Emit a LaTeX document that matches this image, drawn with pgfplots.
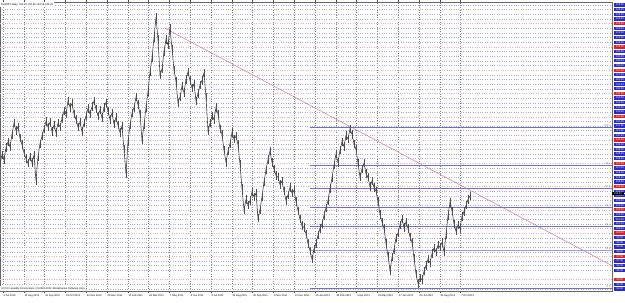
\documentclass[border=0pt]{standalone}
\usepackage{pgfplots}
\pgfplotsset{compat=1.18}
\usepackage{fontspec}
\setmainfont{Liberation Sans}
\definecolor{mtblue}{HTML}{2B2BC8}
\definecolor{mtred}{HTML}{E02020}
\definecolor{gridblue}{HTML}{A8A8E8}
\definecolor{gridpink}{HTML}{EEB0B0}
\definecolor{fibblue}{HTML}{7070C8}
\definecolor{trend}{HTML}{D07090}
\newcommand{\tinyf}{\fontsize{2.6}{2.8}\selectfont}
\begin{document}
\begin{tikzpicture}[x=1pt,y=1pt]
\useasboundingbox (0,0) rectangle (625,303);
\begin{axis}[
  at={(0pt,12pt)}, anchor=south west,
  scale only axis, width=612pt, height=289pt,
  xmin=0, xmax=612, ymin=93.78, ymax=124.82,
  axis line style={black!60, line width=0.4pt},
  /pgf/number format/assume math mode=true,
  xtick={3,23.8,44.6,65.4,86.2,107,127.8,148.6,169.4,190.2,211,231.8,252.6,273.4,294.2,315,335.8,356.6,377.4,398.2,419,439.8,460.6},
  xticklabels={6 Jul 2010,12 Aug 2010,15 Sep 2010,19 Oct 2010,22 Nov 2010,28 Dec 2010,10 Feb 2011,28 Mar 2011,1 May 2011,6 Jun 2011,8 Jul 2011,22 Aug 2011,26 Sep 2011,4 Nov 2011,12 Dec 2011,16 Jan 2012,28 Feb 2012,3 Apr 2012,15 May 2012,17 Jun 2012,24 Jul 2012,30 Aug 2012,7 Oct 2012},
  xticklabel style={anchor=north west, font=\tinyf, inner sep=0.5pt, yshift=-0.5pt},
  x tick style={black!70, line width=0.3pt},
  tick align=outside, major tick length=2pt,
  xmajorgrids, ymajorgrids,
  major x grid style={black!50, dotted, line width=0.35pt},
  major y grid style={gridblue, dotted, line width=0.35pt},
  ytick={94,94.5,96,96.5,97,98,98.5,99,99.5,100.5,101,101.5,102,103,103.5,104,104.5,105.5,106,106.5,107,108,108.5,109,109.5,110.5,111,111.5,112,113,113.5,114,114.5,115.5,116,116.5,117,118,118.5,119,119.5,120.5,121,121.5,122,123,123.5,124,124.5},
  extra y ticks={95,97.5,100,102.5,105,107.5,110,112.5,115,117.5,120,122.5},
  extra y tick style={yticklabel style={fill=mtred}, major y grid style={gridpink, dotted, line width=0.35pt}},
  yticklabel pos=right,
  y tick style={draw=none},
  yticklabel style={anchor=west, font=\tinyf, text=white, fill=mtblue, inner sep=0pt,
    minimum width=12pt, minimum height=3.3pt, xshift=-0.3pt,
    /pgf/number format/fixed, /pgf/number format/fixed zerofill, /pgf/number format/precision=2},
  clip=false,
]
% trend line and fibonacci retracement
\addplot[trend, line width=0.45pt] coordinates {(165,122.0) (612,96.5)};
\addplot[trend, dotted, line width=0.4pt] coordinates {(310,111.4) (418,94.1)};
\addplot[fibblue, line width=0.5pt] coordinates {(310,111.4) (612,111.4)};
\addplot[fibblue, line width=0.5pt] coordinates {(310,107.32) (612,107.32)};
\addplot[fibblue, line width=0.5pt] coordinates {(310,104.79) (612,104.79)};
\addplot[fibblue, line width=0.5pt] coordinates {(310,102.75) (612,102.75)};
\addplot[fibblue, line width=0.5pt] coordinates {(310,100.71) (612,100.71)};
\addplot[fibblue!70, line width=0.4pt] coordinates {(310,98.18) (612,98.18)};
\addplot[fibblue, line width=0.7pt] coordinates {(310,94.1) (612,94.1)};
% EURJPY daily price path (closes with daily high-low range)
\addplot[black!75, line width=0.6pt,
  error bars/.cd, y dir=both, y fixed=0.45,
  error mark=none, error bar style={black!70, line width=0.5pt}] coordinates {
(0,107.5)(2,108.4)(4,107.9)(6,109.2)(8,109.8)(10,109.3)(12,110.6)(14,111.8)
(16,111.0)(18,111.4)(20,110.2)(22,109.5)(24,108.6)(26,108.0)(28,107.5)
(30,108.2)(32,107.6)(34,108.4)(36,105.6)(38,108.2)(40,109.6)
(42,110.4)(44,111.2)(46,112.0)(48,111.4)(50,111.9)(52,110.9)(54,111.6)
(56,110.8)(58,111.8)(60,111.4)(62,112.3)(64,113.1)(66,112.8)(68,114.2)
(70,113.5)(72,113.9)(74,112.8)(76,112.2)(78,111.4)(80,111.9)(82,110.9)
(84,111.8)(86,112.6)(88,113.4)(90,112.8)(92,113.6)(94,114.2)(96,113.3)(98,112.6)
(100,113.2)(102,112.4)(104,113.5)(106,114.0)
(108,113.1)(110,112.2)(112,112.9)(114,111.7)(116,112.4)
(118,111.6)(120,110.8)(122,111.5)(124,109.0)(126,106.4)(128,109.8)(130,111.6)
(132,112.9)(134,113.5)(136,114.6)(138,113.8)(140,112.8)(142,110.0)
(144,111.6)(146,113.5)(148,115.2)(150,117.3)(152,118.8)(154,121.0)(156,123.2)
(158,120.8)(160,117.0)(162,117.6)(164,119.5)(166,120.8)(168,120.2)(170,122.0)
(172,119.8)(174,117.5)(176,116.3)(178,114.0)
(180,114.6)(182,115.8)(184,115.1)(186,116.5)(188,117.3)
(190,116.4)(192,115.6)(194,116.0)(196,114.2)
(198,115.0)(200,115.9)(202,116.4)(204,117.2)(206,114.6)(208,111.0)
(210,111.8)(212,112.6)(214,112.2)(216,113.5)
(218,112.8)(220,111.2)(222,110.6)(224,108.9)(226,107.6)
(228,108.8)(230,109.6)(232,110.8)(234,110.1)(236,110.4)(238,109.5)
(240,107.4)(242,104.8)(244,102.5)
(246,103.6)(248,103.0)(250,103.5)(252,104.4)(254,103.9)(256,104.3)(258,101.6)
(260,102.5)(262,103.9)(264,105.5)(266,106.8)(268,107.9)(270,108.8)
(272,107.6)(274,106.9)(276,106.2)(278,106.0)(280,105.2)
(282,105.6)(284,104.5)(286,103.5)(288,104.1)(290,104.9)
(292,104.3)(294,104.6)(296,103.4)(298,102.4)(300,101.5)(302,100.8)
(304,100.6)(306,99.9)(308,98.9)(310,98.1)(312,97.2)
(314,98.3)(316,98.9)(318,99.8)(320,100.5)
(322,101.0)(324,101.9)(326,102.7)(328,103.5)
(330,104.8)(332,105.9)(334,107.3)(336,108.5)
(338,107.6)(340,108.9)(342,109.8)(344,109.3)(346,110.5)(348,110.1)(350,111.2)
(352,110.6)(354,109.6)(356,109.0)(358,107.5)(360,106.0)(362,106.9)(364,107.5)
(366,106.4)(368,106.0)(370,105.0)(372,105.6)(374,104.9)(376,104.5)
(378,103.4)(380,102.0)(382,101.2)(384,100.5)(386,98.9)(388,97.5)(390,96.0)
(392,97.4)(394,98.2)(396,99.5)(398,100.0)(400,100.9)(402,101.5)
(404,100.6)(406,101.2)(408,100.5)(410,99.6)(412,99.0)
(414,97.3)(416,95.6)(418,94.6)
(420,95.2)(422,95.0)(424,95.9)(426,96.5)
(428,97.2)(430,96.8)(432,97.8)(434,98.4)(436,98.0)(438,98.7)(440,98.5)(442,99.0)(444,98.0)
(446,99.8)(448,101.9)(450,103.3)(452,102.4)(454,101.0)(456,100.2)
(458,100.9)(460,100.5)(462,101.8)(464,102.3)(466,103.0)(468,103.6)(470,104.0)
};
% fibonacci level labels
\node[anchor=south east, font=\tinyf, text=black!55, inner sep=0.3pt] at (axis cs:611,111.4) {100.0};
\node[anchor=south east, font=\tinyf, text=black!55, inner sep=0.3pt] at (axis cs:611,107.32) {76.4};
\node[anchor=south east, font=\tinyf, text=black!55, inner sep=0.3pt] at (axis cs:611,104.79) {61.8};
\node[anchor=south east, font=\tinyf, text=black!55, inner sep=0.3pt] at (axis cs:611,102.75) {50.0};
\node[anchor=south east, font=\tinyf, text=black!55, inner sep=0.3pt] at (axis cs:611,100.71) {38.2};
\node[anchor=south east, font=\tinyf, text=black!55, inner sep=0.3pt] at (axis cs:611,98.18) {23.6};
\node[anchor=south east, font=\tinyf, text=black!55, inner sep=0.3pt] at (axis cs:611,94.1) {0.0};
% current price box
\node[anchor=west, font=\tinyf, text=white, fill=black, inner sep=0pt, minimum width=12pt, minimum height=3.3pt, xshift=-0.3pt] at (axis cs:612,104.26) {104.26};
% title and copyright
\node[anchor=north west, font=\tinyf, inner sep=1pt, fill=white] at (rel axis cs:0,1) {EURJPY,Daily\ \ 103.29 104.64 103.19 104.26};
\node[anchor=south west, font=\tinyf, inner sep=1pt, fill=white] at (rel axis cs:0,0) {(C) FX Liquidity Connections, (C)2001-2012, MetaQuotes Software Corp.};
\end{axis}
\end{tikzpicture}
\end{document}
